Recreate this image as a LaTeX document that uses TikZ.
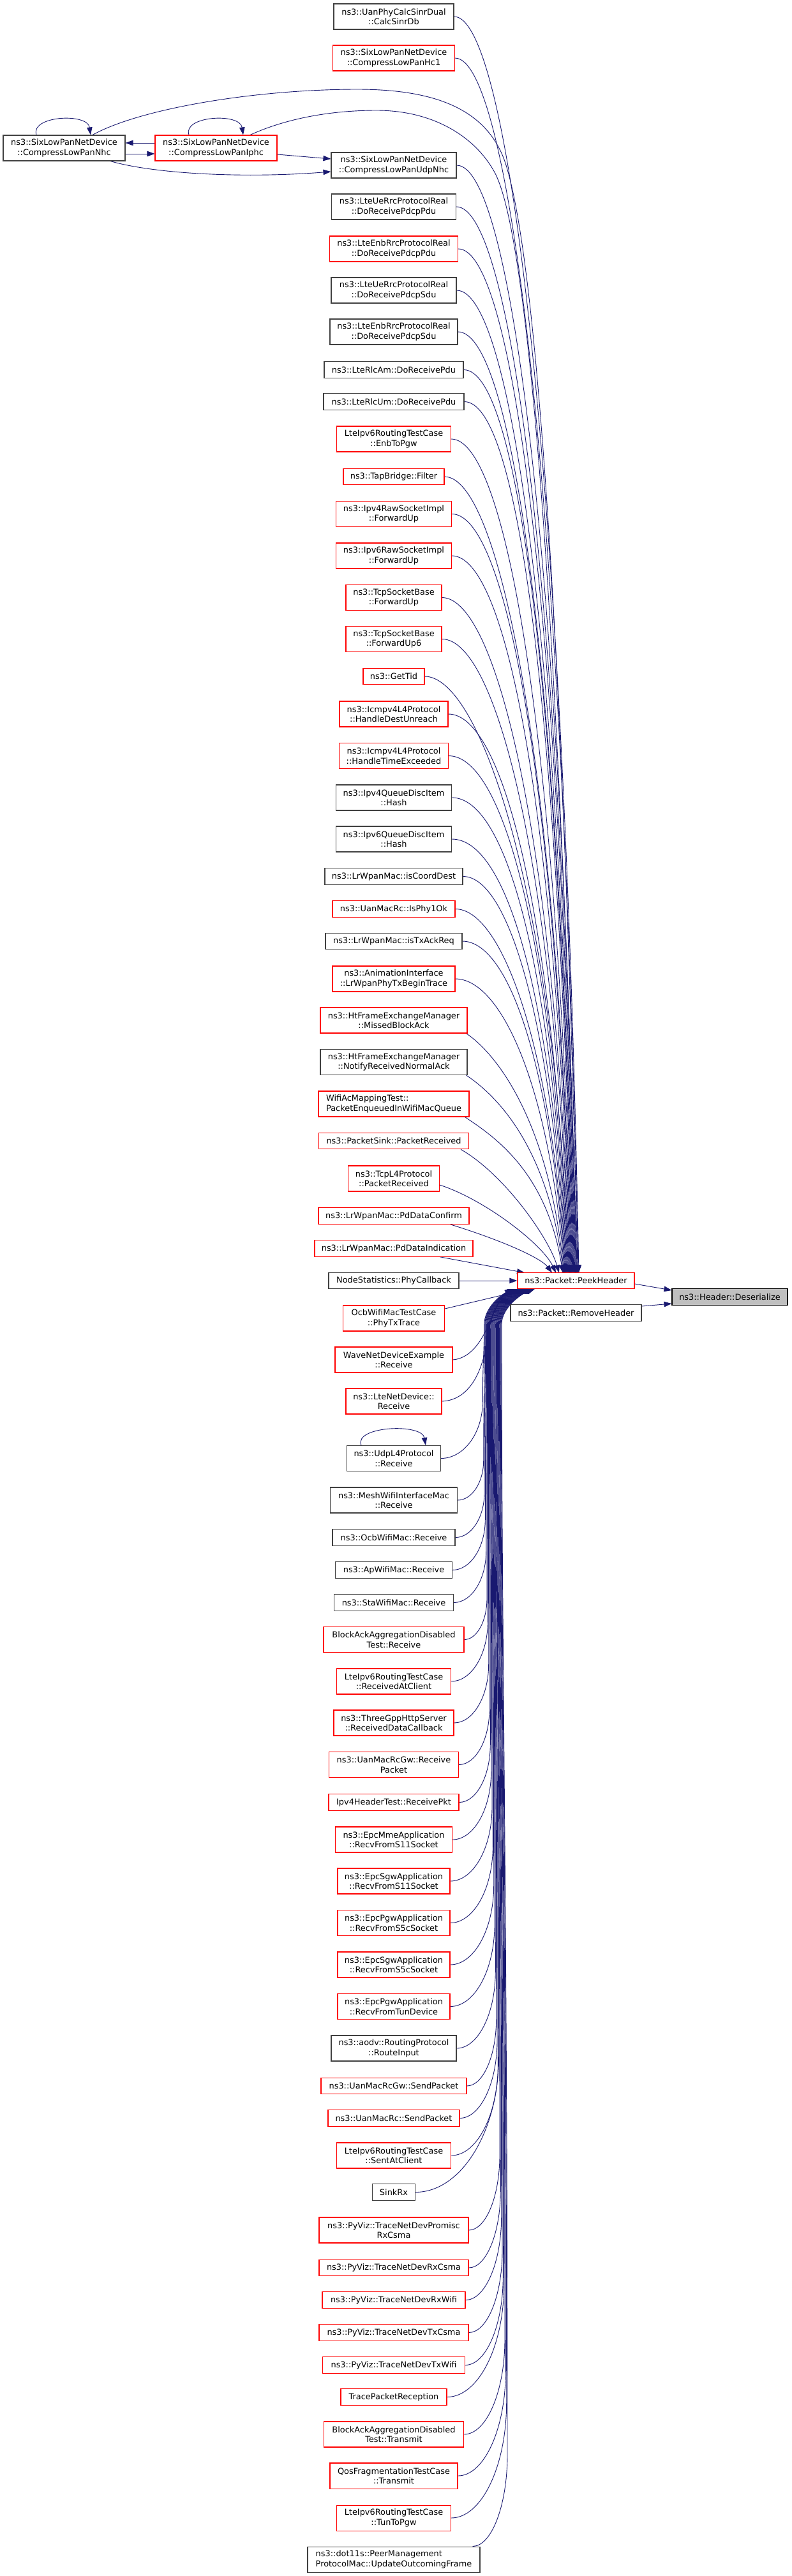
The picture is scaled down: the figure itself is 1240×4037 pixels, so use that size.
\documentclass[tikz,border=0pt]{standalone}
\usepackage{fontspec}
\setmainfont{DejaVu Sans}
\usetikzlibrary{arrows.meta,calc}
\definecolor{dgrey}{HTML}{404040}
\definecolor{mblue}{HTML}{191970}
\definecolor{ggrey}{HTML}{BFBFBF}
\pgfdeclarelayer{edgelayer}
\pgfsetlayers{edgelayer,main}
% edge from a caller above PeekHeader: #1 start, #2 arrival x, #3 first control dx, #4 first control drop
\newcommand\topedge[4]{%
  \draw[calledge] let \p1=#1 in (\p1) .. controls ({\x1+#3pt},{\y1-#4pt}) and ({#2pt-25pt},{0.65*(\y1)-698pt}) .. (#2pt,-1994.5pt);}
% edge from a caller below PeekHeader: #1 start, #2 bundle x, #3 arrival x
\newcommand\botedge[3]{%
  \draw[calledge] let \p1=#1, \n1={#2pt-\x1}, \n2={1.2*\n1+0.04*(abs(\y1)-2020pt)}, \n3={abs(\y1)-\n2-2075pt} in
  (\p1) .. controls ({\x1+0.55*\n1},\y1) and (#2pt,{\y1+0.45*\n2}) .. (#2pt,{\y1+\n2})
  .. controls (#2pt,{\y1+\n2+0.5*\n3}) and ({758pt+0.7*(#2pt-755pt)},{-2075pt-0.3*\n3}) .. ({758pt+0.7*(#2pt-755pt)},-2075pt)
  .. controls ({758pt+0.7*(#2pt-755pt)},-2050pt) and ({#3pt-22pt},-2028pt) .. (#3pt,-2020pt);}
\begin{document}
\begin{tikzpicture}[x=1pt,y=1pt,
  fnbox/.style={draw=dgrey, line width=1.1pt, fill=white, inner sep=0pt, align=center,
    minimum height=25.5pt, font=\fontsize{12.9pt}{15.5pt}\selectfont},
  two/.style={minimum height=40pt},
  rd/.style={draw=red},
  calledge/.style={draw=mblue, line width=0.9pt, -{Triangle[length=12pt,width=8.5pt]}}]
\useasboundingbox (0,0) rectangle (1240,-4037);
% ---------- nodes above ----------
\node[fnbox,two,minimum width=188pt] (ucs) at (617,-26) {ns3::UanPhyCalcSinrDual\\::CalcSinrDb};
\node[fnbox,two,rd,minimum width=191pt] (hc1) at (617,-91) {ns3::SixLowPanNetDevice\\::CompressLowPanHc1};
\node[fnbox,two,minimum width=191pt] (nhc) at (100.5,-232) {ns3::SixLowPanNetDevice\\::CompressLowPanNhc};
\node[fnbox,two,rd,minimum width=191pt] (iphc) at (338.5,-232) {ns3::SixLowPanNetDevice\\::CompressLowPanIphc};
\node[fnbox,two,minimum width=196pt] (udp) at (617,-259) {ns3::SixLowPanNetDevice\\::CompressLowPanUdpNhc};
\node[fnbox,two,minimum width=195pt] (uepdu) at (617,-324) {ns3::LteUeRrcProtocolReal\\::DoReceivePdcpPdu};
\node[fnbox,two,rd,minimum width=201pt] (enbpdu) at (617,-390) {ns3::LteEnbRrcProtocolReal\\::DoReceivePdcpPdu};
\node[fnbox,two,minimum width=196pt] (uesdu) at (617,-455) {ns3::LteUeRrcProtocolReal\\::DoReceivePdcpSdu};
\node[fnbox,two,minimum width=200pt] (enbsdu) at (617,-520) {ns3::LteEnbRrcProtocolReal\\::DoReceivePdcpSdu};
\node[fnbox,minimum width=218pt] (rlcam) at (617,-579.5) {ns3::LteRlcAm::DoReceivePdu};
\node[fnbox,minimum width=220pt] (rlcum) at (617,-629.5) {ns3::LteRlcUm::DoReceivePdu};
\node[fnbox,two,rd,minimum width=179pt] (enbtopgw) at (617,-688) {LteIpv6RoutingTestCase\\::EnbToPgw};
\node[fnbox,rd,minimum width=158pt] (tap) at (617,-747) {ns3::TapBridge::Filter};
\node[fnbox,two,rd,minimum width=181pt] (ip4raw) at (617,-805.5) {ns3::Ipv4RawSocketImpl\\::ForwardUp};
\node[fnbox,two,rd,minimum width=181pt] (ip6raw) at (617,-871) {ns3::Ipv6RawSocketImpl\\::ForwardUp};
\node[fnbox,two,rd,minimum width=150pt] (tcpfu) at (617,-936.5) {ns3::TcpSocketBase\\::ForwardUp};
\node[fnbox,two,rd,minimum width=150pt] (tcpfu6) at (617,-1001.5) {ns3::TcpSocketBase\\::ForwardUp6};
\node[fnbox,rd,minimum width=96pt] (gettid) at (617,-1060) {ns3::GetTid};
\node[fnbox,two,rd,minimum width=170pt] (destun) at (617,-1119) {ns3::Icmpv4L4Protocol\\::HandleDestUnreach};
\node[fnbox,two,rd,minimum width=171pt] (timeex) at (617,-1184.5) {ns3::Icmpv4L4Protocol\\::HandleTimeExceeded};
\node[fnbox,two,minimum width=181pt] (q4) at (617,-1250) {ns3::Ipv4QueueDiscItem\\::Hash};
\node[fnbox,two,minimum width=181pt] (q6) at (617,-1315) {ns3::Ipv6QueueDiscItem\\::Hash};
\node[fnbox,minimum width=216pt] (coord) at (617,-1373.5) {ns3::LrWpanMac::isCoordDest};
\node[fnbox,rd,minimum width=192pt] (phy1ok) at (617,-1424.5) {ns3::UanMacRc::IsPhy1Ok};
\node[fnbox,minimum width=214pt] (txack) at (617,-1475) {ns3::LrWpanMac::isTxAckReq};
\node[fnbox,two,rd,minimum width=192pt] (anim) at (617,-1534) {ns3::AnimationInterface\\::LrWpanPhyTxBeginTrace};
\node[fnbox,two,rd,minimum width=230pt] (missed) at (617,-1599) {ns3::HtFrameExchangeManager\\::MissedBlockAck};
\node[fnbox,two,minimum width=230pt] (notify) at (617,-1664.5) {ns3::HtFrameExchangeManager\\::NotifyReceivedNormalAck};
\node[fnbox,two,rd,align=left,minimum width=236pt] (wifiac) at (617,-1730) {WifiAcMappingTest::\\PacketEnqueuedInWifiMacQueue};
\node[fnbox,rd,minimum width=235pt] (psink) at (617,-1788) {ns3::PacketSink::PacketReceived};
\node[fnbox,two,rd,minimum width=143pt] (tcpl4) at (617,-1847) {ns3::TcpL4Protocol\\::PacketReceived};
\node[fnbox,rd,minimum width=236pt] (pdconf) at (617,-1905.5) {ns3::LrWpanMac::PdDataConfirm};
\node[fnbox,rd,minimum width=248pt] (pdind) at (617,-1956.5) {ns3::LrWpanMac::PdDataIndication};
\node[fnbox,minimum width=204pt] (phycb) at (617,-2007) {NodeStatistics::PhyCallback};
% ---------- centre ----------
\node[fnbox,rd,minimum width=183pt,minimum height=24.5pt] (peek) at (902.5,-2007) {ns3::Packet::PeekHeader};
\node[fnbox,minimum width=205pt,minimum height=26.5pt] (remove) at (902.5,-2057.5) {ns3::Packet::RemoveHeader};
\node[fnbox,draw=black,fill=ggrey,minimum width=181pt] (deser) at (1143.5,-2032.5) {ns3::Header::Deserialize};
% ---------- nodes below ----------
\node[fnbox,two,rd,minimum width=159pt] (ocbtest) at (617,-2066) {OcbWifiMacTestCase\\::PhyTxTrace};
\node[fnbox,two,rd,minimum width=184pt] (wave) at (617,-2131) {WaveNetDeviceExample\\::Receive};
\node[fnbox,two,rd,minimum width=150pt] (ltend) at (617,-2196) {ns3::LteNetDevice::\\Receive};
\node[fnbox,two,minimum width=147pt] (udpl4) at (617,-2285.5) {ns3::UdpL4Protocol\\::Receive};
\node[fnbox,two,minimum width=199pt] (mesh) at (617,-2351) {ns3::MeshWifiInterfaceMac\\::Receive};
\node[fnbox,minimum width=192pt] (ocbrx) at (617,-2409.5) {ns3::OcbWifiMac::Receive};
\node[fnbox,minimum width=183pt] (aprx) at (617,-2460.5) {ns3::ApWifiMac::Receive};
\node[fnbox,minimum width=187pt] (starx) at (617,-2511.5) {ns3::StaWifiMac::Receive};
\node[fnbox,two,rd,minimum width=220pt] (barx) at (617,-2569.5) {BlockAckAggregationDisabled\\Test::Receive};
\node[fnbox,two,rd,minimum width=179pt] (rac) at (617,-2635) {LteIpv6RoutingTestCase\\::ReceivedAtClient};
\node[fnbox,two,rd,minimum width=188pt] (http) at (617,-2700) {ns3::ThreeGppHttpServer\\::ReceivedDataCallback};
\node[fnbox,two,rd,minimum width=203pt] (gwrx) at (617,-2765.5) {ns3::UanMacRcGw::Receive\\Packet};
\node[fnbox,rd,minimum width=204pt] (ip4hdr) at (617,-2824.5) {Ipv4HeaderTest::ReceivePkt};
\node[fnbox,two,rd,minimum width=183pt] (mme) at (617,-2883) {ns3::EpcMmeApplication\\::RecvFromS11Socket};
\node[fnbox,two,rd,minimum width=176pt] (sgw11) at (617,-2948) {ns3::EpcSgwApplication\\::RecvFromS11Socket};
\node[fnbox,two,rd,minimum width=176pt] (pgw5c) at (617,-3013.5) {ns3::EpcPgwApplication\\::RecvFromS5cSocket};
\node[fnbox,two,rd,minimum width=176pt] (sgw5c) at (617,-3079) {ns3::EpcSgwApplication\\::RecvFromS5cSocket};
\node[fnbox,two,rd,minimum width=176pt] (pgwtun) at (617,-3144.5) {ns3::EpcPgwApplication\\::RecvFromTunDevice};
\node[fnbox,two,minimum width=196pt] (aodv) at (617,-3210) {ns3::aodv::RoutingProtocol\\::RouteInput};
\node[fnbox,rd,minimum width=228pt] (gwsend) at (617,-3269) {ns3::UanMacRcGw::SendPacket};
\node[fnbox,rd,minimum width=206pt] (rcsend) at (617,-3319.5) {ns3::UanMacRc::SendPacket};
\node[fnbox,two,rd,minimum width=179pt] (sac) at (617,-3378) {LteIpv6RoutingTestCase\\::SentAtClient};
\node[fnbox,minimum width=67pt] (sinkrx) at (617,-3435.5) {SinkRx};
\node[fnbox,two,rd,minimum width=234pt] (promisc) at (617,-3495) {ns3::PyViz::TraceNetDevPromisc\\RxCsma};
\node[fnbox,rd,minimum width=234pt] (rxcsma) at (617,-3554) {ns3::PyViz::TraceNetDevRxCsma};
\node[fnbox,rd,minimum width=224pt] (rxwifi) at (617,-3604.5) {ns3::PyViz::TraceNetDevRxWifi};
\node[fnbox,rd,minimum width=234pt] (txcsma) at (617,-3655.5) {ns3::PyViz::TraceNetDevTxCsma};
\node[fnbox,rd,minimum width=223pt] (txwifi) at (617,-3706.5) {ns3::PyViz::TraceNetDevTxWifi};
\node[fnbox,rd,minimum width=166pt] (tpr) at (617,-3756.5) {TracePacketReception};
\node[fnbox,two,rd,minimum width=219pt] (batx) at (617,-3815) {BlockAckAggregationDisabled\\Test::Transmit};
\node[fnbox,two,rd,minimum width=200pt] (qos) at (617,-3880) {QosFragmentationTestCase\\::Transmit};
\node[fnbox,two,rd,minimum width=179pt] (tun2pgw) at (617,-3946) {LteIpv6RoutingTestCase\\::TunToPgw};
\node[fnbox,two,align=left,minimum width=270pt] (dot11s) at (617,-4011) {ns3::dot11s::PeerManagement\\ProtocolMac::UpdateOutcomingFrame};
% ---------- edges ----------
\begin{pgfonlayer}{edgelayer}
\fill[white] (0,0) rectangle (1240,-4037);
% SixLowPan cluster
\draw[calledge] ([xshift=-43.5pt]nhc.north) .. controls +(-10,30) and +(-5,35) .. ([xshift=41.5pt]nhc.north);
\draw[calledge] ([xshift=-42.5pt]iphc.north) .. controls +(-10,30) and +(-5,35) .. ([xshift=42.5pt]iphc.north);
\draw[calledge] ([yshift=8pt]iphc.west) -- ([yshift=8pt]nhc.east);
\draw[calledge] ([yshift=-9pt]nhc.east) -- ([yshift=-9pt]iphc.west);
\draw[calledge] ([yshift=-10pt]iphc.east) -- ([yshift=10pt]udp.west);
\draw[calledge] ([xshift=72.5pt]nhc.south) .. controls (240,-272) and (380,-280) .. ([yshift=-10pt]udp.west);
\draw[calledge] ([xshift=44.5pt]nhc.north) .. controls (220,-170) and (400,-140) .. (560,-140)
  .. controls (680,-140) and (760,-170) .. (790,-250) .. controls (850,-420) and (887,-1200) .. (905.2,-1994.5);
\draw[calledge] ([xshift=53.5pt]iphc.north) .. controls (450,-185) and (520,-173) .. (590,-173)
  .. controls (680,-173) and (745,-215) .. (775,-270) .. controls (840,-390) and (882,-1200) .. (904.3,-1994.5);
% callers above
\topedge{(ucs.east)}{907}{85}{0}
\topedge{(hc1.east)}{906.1}{85}{0}
\topedge{(udp.east)}{903.4}{85}{0}
\topedge{(uepdu.east)}{902.5}{85}{0}
\topedge{(enbpdu.east)}{901.6}{85}{0}
\topedge{(uesdu.east)}{900.7}{85}{0}
\topedge{(enbsdu.east)}{899.8}{85}{0}
\topedge{(rlcam.east)}{898.9}{85}{0}
\topedge{(rlcum.east)}{898}{85}{0}
\topedge{(enbtopgw.east)}{897.1}{85}{0}
\topedge{(tap.east)}{896.2}{85}{0}
\topedge{(ip4raw.east)}{895.3}{85}{0}
\topedge{(ip6raw.east)}{894.4}{85}{0}
\topedge{(tcpfu.east)}{893.5}{85}{0}
\topedge{(tcpfu6.east)}{892.6}{85}{0}
\topedge{(gettid.east)}{891.7}{85}{0}
\topedge{(destun.east)}{890.8}{85}{0}
\topedge{(timeex.east)}{889.9}{85}{0}
\topedge{(q4.east)}{889}{85}{0}
\topedge{(q6.east)}{888.1}{85}{0}
\topedge{(coord.east)}{887.2}{70}{0}
\topedge{(phy1ok.east)}{886.3}{70}{0}
\topedge{(txack.east)}{885.4}{70}{0}
\topedge{(anim.east)}{884.5}{70}{0}
\topedge{([xshift=-2pt]missed.south east)}{883.6}{45}{30}
\topedge{([xshift=-2pt]notify.south east)}{882.7}{45}{30}
\topedge{([xshift=-7pt]wifiac.south east)}{881.8}{45}{30}
\draw[calledge] ([xshift=-13pt]psink.south east) .. controls (790,-1840) and (860,-1940) .. (876,-1994.5);
\draw[calledge] ([yshift=-10pt]tcpl4.east) .. controls (760,-1880) and (850,-1950) .. (871,-1994.5);
\draw[calledge] ([xshift=-30pt]pdconf.south east) .. controls (790,-1945) and (848,-1972) .. (865,-1994.5);
\draw[calledge] ([xshift=-52pt]pdind.south east) -- (822,-1994.5);
\draw[calledge] (phycb.east) -- (peek.west);
% callers below
\draw[calledge] ([yshift=15pt]ocbtest.east) -- (828,-2020);
\draw[calledge] (wave.east) .. controls (745,-2128) and (762,-2085) .. (770,-2065)
  .. controls (778,-2045) and (788,-2028) .. (803,-2020);
\draw[calledge] (ltend.east) .. controls (740,-2194) and (758,-2140) .. (763,-2100)
  .. controls (767,-2065) and (785,-2030) .. (805,-2020);
\draw[calledge] ([xshift=-51pt]udpl4.north) .. controls +(-12,30) and +(-6,35) .. ([xshift=50pt]udpl4.north);
\botedge{(udpl4.east)}{756.3}{807.1}
\botedge{(mesh.east)}{757.7}{808.1}
\botedge{(ocbrx.east)}{759}{809.2}
\botedge{(aprx.east)}{760.3}{810.3}
\botedge{(starx.east)}{761.7}{811.3}
\botedge{(barx.east)}{763}{812.4}
\botedge{(rac.east)}{764.3}{813.5}
\botedge{(http.east)}{765.7}{814.5}
\botedge{(gwrx.east)}{767}{815.6}
\botedge{(ip4hdr.east)}{768.3}{816.7}
\botedge{(mme.east)}{769.7}{817.7}
\botedge{(sgw11.east)}{771}{818.8}
\botedge{(pgw5c.east)}{772.3}{819.9}
\botedge{(sgw5c.east)}{773.7}{820.9}
\botedge{(pgwtun.east)}{775}{822}
\botedge{(aodv.east)}{776.3}{823.1}
\botedge{(gwsend.east)}{777.7}{824.1}
\botedge{(rcsend.east)}{779}{825.2}
\botedge{(sac.east)}{780.3}{826.3}
\botedge{(sinkrx.east)}{781.7}{827.3}
\botedge{(promisc.east)}{783}{828.4}
\botedge{(rxcsma.east)}{784.3}{829.5}
\botedge{(rxwifi.east)}{785.7}{830.5}
\botedge{(txcsma.east)}{787}{831.6}
\botedge{(txwifi.east)}{788.3}{832.7}
\botedge{(tpr.east)}{789.7}{833.7}
\botedge{(batx.east)}{791}{834.8}
\botedge{(qos.east)}{792.3}{835.9}
\botedge{(tun2pgw.east)}{793.7}{836.9}
\botedge{([xshift=-12pt]dot11s.north east)}{795}{838}
% to Deserialize
\draw[calledge] ([yshift=-5pt]peek.east) -- ([yshift=10.5pt]deser.west);
\draw[calledge] ([yshift=10.5pt]remove.east) -- ([yshift=-10.5pt]deser.west);
\end{pgfonlayer}
\end{tikzpicture}
\end{document}
